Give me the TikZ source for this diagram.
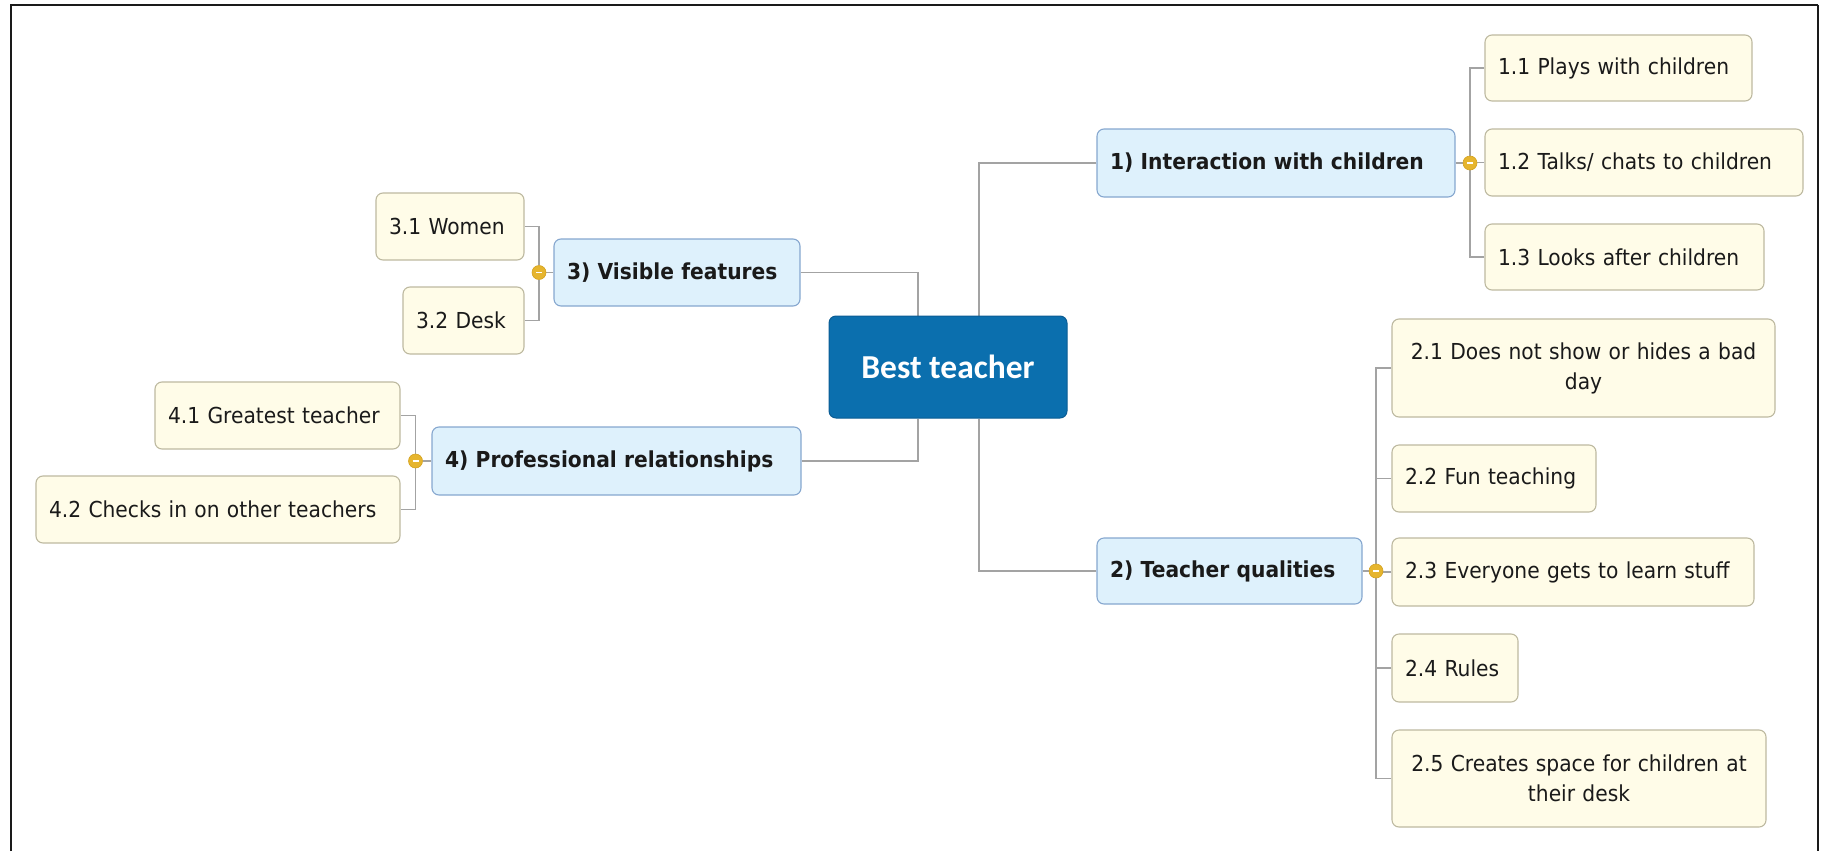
\documentclass[tikz,border=0pt]{standalone}
\usepackage{fontspec}
\setmainfont{DejaVu Sans}[FakeStretch=0.92]
\newfontfamily\hubfont{Carlito}
\usetikzlibrary{backgrounds}

\definecolor{ink}{HTML}{1A1A1A}
\definecolor{hubfill}{HTML}{0B6FAE}
\definecolor{hubline}{HTML}{0A5C94}
\definecolor{topicfill}{HTML}{DEF1FC}
\definecolor{topicline}{HTML}{86A7CF}
\definecolor{leaffill}{HTML}{FFFCE8}
\definecolor{leafline}{HTML}{BDB9A0}
\definecolor{linkgray}{HTML}{A3A3A3}
\definecolor{knobgold}{HTML}{E6B52E}
\definecolor{knobedge}{HTML}{D4A21F}
\definecolor{framecol}{HTML}{1A1A1A}

\begin{document}
\begin{tikzpicture}[x=1pt,y=-1pt,
  hubbox/.style={draw=hubline, fill=hubfill, rounded corners=7, line width=1,
    minimum width=238, minimum height=102, inner sep=0,
    font=\hubfont\bfseries\fontsize{33.5}{36}\selectfont, text=white},
  topic/.style={draw=topicline, fill=topicfill, rounded corners=7, line width=1.1,
    minimum height=67, inner xsep=13, inner ysep=0, align=left, text=ink,
    font=\bfseries\fontsize{22}{30}\selectfont},
  leaf/.style={draw=leafline, fill=leaffill, rounded corners=7, line width=1.1,
    minimum height=67, inner xsep=13, inner ysep=0, align=left, text=ink,
    font=\fontsize{22}{30}\selectfont},
  link/.style={draw=linkgray, line width=1.4},
  knob/.style={circle, fill=knobgold, draw=knobedge, line width=0.6,
    minimum size=14, inner sep=0,
    path picture={\draw[white, line width=1.8]
      ([xshift=4]path picture bounding box.west) --
      ([xshift=-4]path picture bounding box.east);}},
  framing/.style={draw=framecol, line width=1.8}
]
\useasboundingbox (0,0) rectangle (1825,851);

% outer frame (open at the bottom)
\draw[framing] (11,851) -- (11,5) -- (1818,5);
\draw[framecol, line width=1.2] (1818,5) -- (1818,851);

% central topic
\node[hubbox] (hub) at (948,367) {Best teacher};
\coordinate (hl) at (918,367);
\coordinate (hr) at (979,367);

% main branches
\node[topic, text width=332, minimum height=68] (n1) at (1276,163) {\mbox{1) Interaction with children}};
\node[topic, text width=239, minimum height=66] (n2) at (1229.5,571) {\mbox{2) Teacher qualities}};
\node[topic, text width=220] (n3) at (677,272.5) {\mbox{3) Visible features}};
\node[topic, text width=343, minimum height=68] (n4) at (616.5,461) {\mbox{4) Professional relationships}};

% branch 1
\node[leaf, text width=241, minimum height=66] (l11) at (1618.5,68) {\mbox{1.1 Plays with children}};
\node[leaf, text width=292] (l12) at (1644,162.5) {\mbox{1.2 Talks/ chats to children}};
\node[leaf, text width=253, minimum height=66] (l13) at (1624.5,257) {\mbox{1.3 Looks after children}};

% branch 2
\node[leaf, text width=357, minimum height=98, align=center] (l21) at (1583.5,368)
  {\mbox{2.1 Does not show or hides a bad}\\day};
\node[leaf, text width=178] (l22) at (1494,478.5) {\mbox{2.2 Fun teaching}};
\node[leaf, text width=336, minimum height=68] (l23) at (1573,572) {\mbox{2.3 Everyone gets to learn stuff}};
\node[leaf, text width=100, minimum height=68] (l24) at (1455,668) {\mbox{2.4 Rules}};
\node[leaf, text width=348, minimum height=97, align=center] (l25) at (1579,778.5)
  {\mbox{2.5 Creates space for children at}\\their desk};

% branch 3
\node[leaf, text width=122] (l31) at (450,226.5) {\mbox{3.1 Women}};
\node[leaf, text width=95] (l32) at (463.5,320.5) {\mbox{3.2 Desk}};

% branch 4
\node[leaf, text width=219] (l41) at (277.5,415.5) {\mbox{4.1 Greatest teacher}};
\node[leaf, text width=338] (l42) at (218,509.5) {\mbox{4.2 Checks in on other teachers}};

% collapse knobs
\node[knob] (k1) at (1470,163) {};
\node[knob] (k2) at (1376,571) {};
\node[knob] (k3) at (539,272.5) {};
\node[knob] (k4) at (415.5,461) {};

\begin{pgfonlayer}{background}
  % hub to main branches
  \draw[link] (n3.east) -| (hl |- hub.north);
  \draw[link] (n4.east) -| (hl |- hub.south);
  \draw[link] (n1.west) -| (hr |- hub.north);
  \draw[link] (n2.west) -| (hr |- hub.south);
  % main branches to knobs
  \draw[link] (n1.east) -- (k1);
  \draw[link] (n2.east) -- (k2);
  \draw[link] (n3.west) -- (k3);
  \draw[link] (n4.west) -- (k4);
  % knobs to leaves
  \foreach \l in {l11,l12,l13} \draw[link] (\l.west) -| (k1);
  \foreach \l in {l21,l22,l23,l24,l25} \draw[link] (\l.west) -| (k2);
  \foreach \l in {l31,l32} \draw[link] (\l.east) -| (k3);
  \foreach \l in {l41,l42} \draw[link] (\l.east) -| (k4);
\end{pgfonlayer}
\end{tikzpicture}
\end{document}
